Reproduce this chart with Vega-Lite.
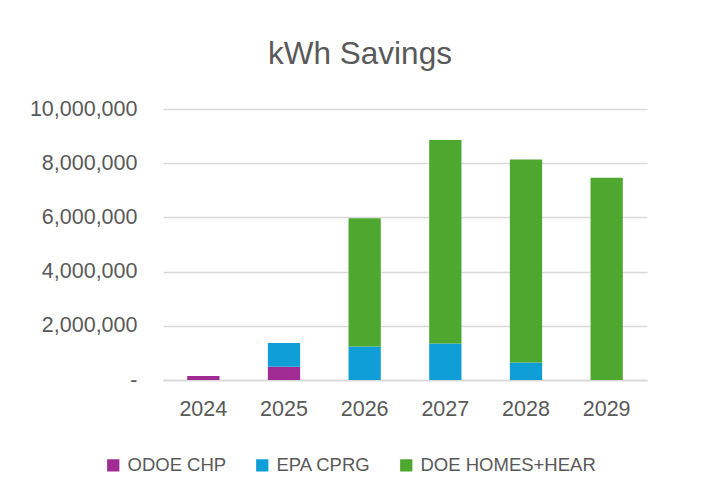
{
  "$schema": "https://vega.github.io/schema/vega-lite/v6.json",
  "width": 484,
  "height": 271,
  "autosize": {"type": "none"},
  "padding": {"left": 163, "top": 109, "right": 58, "bottom": 117},
  "background": "white",
  "title": {
    "text": "kWh Savings",
    "anchor": "middle",
    "dx": -45,
    "offset": 3,
    "baseline": "alphabetic",
    "font": "Liberation Sans",
    "fontSize": 31.5,
    "fontWeight": "normal",
    "color": "#595959"
  },
  "data": {
    "values": [
      {"year": "2024", "program": "ODOE CHP", "kwh": 150000, "ord": 1},
      {"year": "2025", "program": "ODOE CHP", "kwh": 490000, "ord": 1},
      {"year": "2025", "program": "EPA CPRG", "kwh": 875000, "ord": 2},
      {"year": "2026", "program": "EPA CPRG", "kwh": 1240000, "ord": 2},
      {"year": "2026", "program": "DOE HOMES+HEAR", "kwh": 4730000, "ord": 3},
      {"year": "2027", "program": "EPA CPRG", "kwh": 1350000, "ord": 2},
      {"year": "2027", "program": "DOE HOMES+HEAR", "kwh": 7510000, "ord": 3},
      {"year": "2028", "program": "EPA CPRG", "kwh": 650000, "ord": 2},
      {"year": "2028", "program": "DOE HOMES+HEAR", "kwh": 7490000, "ord": 3},
      {"year": "2029", "program": "DOE HOMES+HEAR", "kwh": 7460000, "ord": 3}
    ]
  },
  "mark": {"type": "bar"},
  "encoding": {
    "x": {
      "field": "year",
      "type": "ordinal",
      "scale": {"paddingInner": 0.6, "paddingOuter": 0.3},
      "axis": {
        "title": null,
        "labelAngle": 0,
        "ticks": false,
        "domain": true,
        "domainColor": "#D9D9D9",
        "domainWidth": 1.5,
        "labelPadding": 18,
        "labelFont": "Liberation Sans",
        "labelFontSize": 21.5,
        "labelColor": "#595959"
      }
    },
    "y": {
      "field": "kwh",
      "type": "quantitative",
      "aggregate": "sum",
      "stack": "zero",
      "scale": {"domain": [0, 10000000], "nice": false},
      "axis": {
        "title": null,
        "values": [0, 2000000, 4000000, 6000000, 8000000, 10000000],
        "labelExpr": "datum.value == 0 ? '-\u00a0\u00a0\u00a0' : format(datum.value, ',')",
        "ticks": false,
        "domain": false,
        "grid": true,
        "gridColor": "#D9D9D9",
        "gridWidth": 1.5,
        "labelPadding": 26,
        "labelFont": "Liberation Sans",
        "labelFontSize": 21.5,
        "labelColor": "#595959"
      }
    },
    "color": {
      "field": "program",
      "type": "nominal",
      "scale": {
        "domain": ["ODOE CHP", "EPA CPRG", "DOE HOMES+HEAR"],
        "range": ["#A02B93", "#0F9ED5", "#4EA72E"]
      },
      "legend": {
        "title": null,
        "orient": "none",
        "direction": "horizontal",
        "legendX": -59,
        "legendY": 347,
        "symbolType": "square",
        "symbolSize": 150,
        "symbolStrokeWidth": 0,
        "symbolOpacity": 1,
        "columnPadding": 26,
        "labelOffset": 5,
        "labelLimit": 400,
        "labelFont": "Liberation Sans",
        "labelFontSize": 18.5,
        "labelColor": "#595959",
        "padding": 0
      }
    },
    "order": {"field": "ord", "type": "quantitative"}
  },
  "config": {
    "view": {"stroke": null}
  }
}
